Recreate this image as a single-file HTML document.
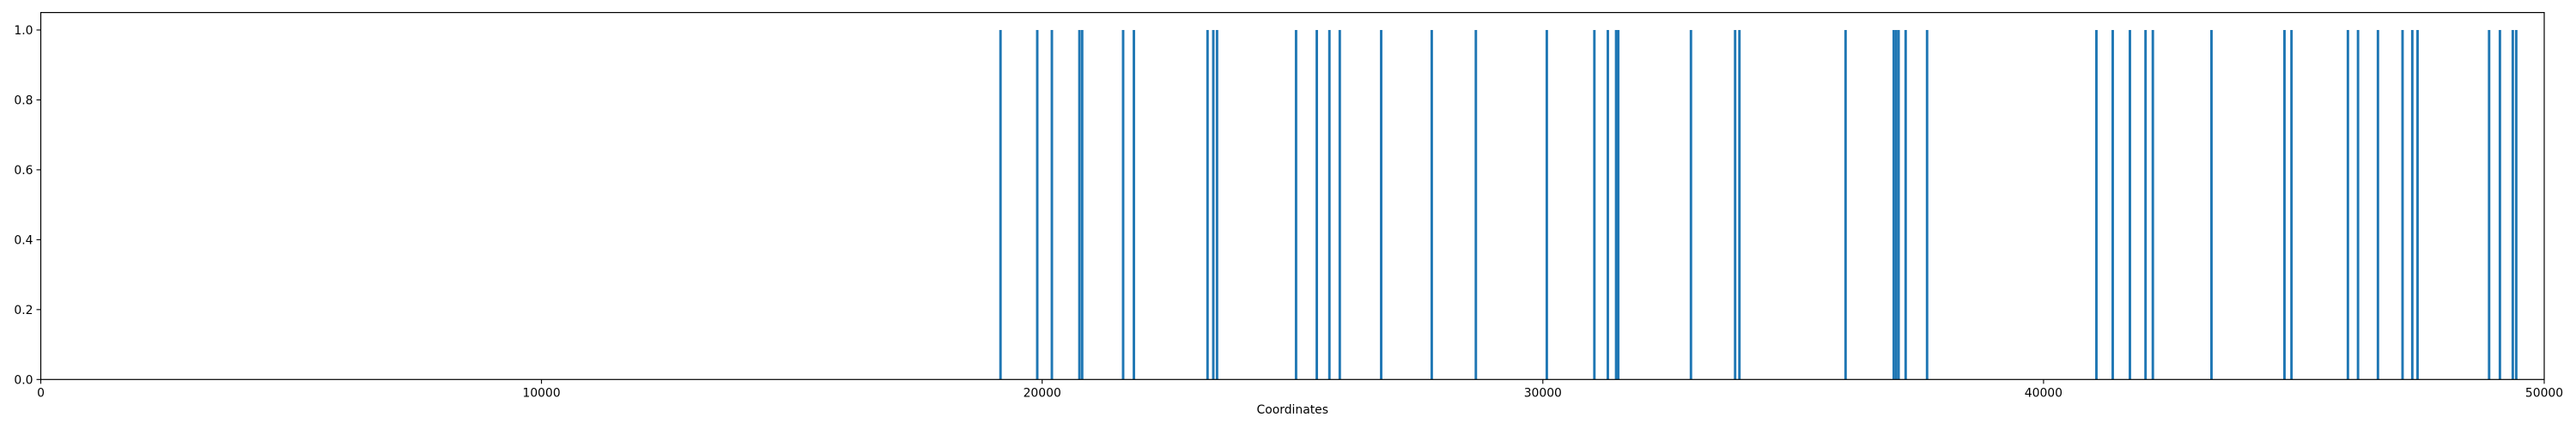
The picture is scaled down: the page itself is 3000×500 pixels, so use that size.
<!DOCTYPE html>
<html><head><meta charset="utf-8"><style>
html,body{margin:0;padding:0;background:#fff;}
svg{display:block;font-family:"DejaVu Sans","Liberation Sans",sans-serif;}
</style></head><body>
<svg id="chart" width="3000" height="500" viewBox="0 0 3000 500">
<rect x="0" y="0" width="3000" height="500" fill="#fff"/>
<g id="bars"></g>
<g id="axes"></g>
</svg>
<script>
const coords = [19168,19902,20194,20744,20799,21617,21832,23303,23418,23493,25071,25485,25737,25944,26771,27781,28662,
30079,31029,31298,31463,31506,32958,33840,33926,36046,37008,37056,37105,37246,37674,
41056,41382,41725,42037,42183,43354,44812,44952,46079,46281,46679,47170,47365,47470,48899,49115,49372,49441];
const heights = coords.map(() => 1);
const xTicks = [0,10000,20000,30000,40000,50000];
const yTicks = [0.0,0.2,0.4,0.6,0.8,1.0];
const yTickLabels = ["0.0","0.2","0.4","0.6","0.8","1.0"];
const barWidth = 50;

const L = 47.5, R = 2963, T = 14.6, B = 442.3;
const xMin = 0, xMax = 50000, yMin = 0, yMax = 1.05;
const xs = v => L + (v - xMin) / (xMax - xMin) * (R - L);
const ys = v => B - (v - yMin) / (yMax - yMin) * (B - T);
const NS = "http://www.w3.org/2000/svg";
const barsG = document.getElementById('bars');
const axesG = document.getElementById('axes');

coords.forEach((c, i) => {
  const r = document.createElementNS(NS, 'rect');
  const x0 = xs(c - barWidth / 2), x1 = xs(c + barWidth / 2);
  r.setAttribute('x', x0);
  r.setAttribute('width', Math.max(x1 - x0, 1));
  r.setAttribute('y', ys(heights[i]));
  r.setAttribute('height', ys(0) - ys(heights[i]));
  r.setAttribute('fill', '#1f77b4');
  
  
  barsG.appendChild(r);
});

function mk(tag, attrs, parent) {
  const e = document.createElementNS(NS, tag);
  for (const k in attrs) e.setAttribute(k, attrs[k]);
  parent.appendChild(e);
  return e;
}
const frame = mk('rect', {x: L, y: T, width: R - L, height: B - T, fill: 'none', stroke: '#000', 'stroke-width': 1.2}, axesG);



xTicks.forEach(v => {
  const x = xs(v);
  const t = mk('line', {x1: x, x2: x, y1: B, y2: B + 5, stroke: '#000', 'stroke-width': 1.1}, axesG);
  
  
  const lb = mk('text', {x: x, y: B + 20, 'text-anchor': 'middle', 'font-size': 13.9, fill: '#000'}, axesG);
  lb.textContent = String(v);
  
  
});
yTicks.forEach((v, i) => {
  const y = ys(v);
  const t = mk('line', {x1: L - 5, x2: L, y1: y, y2: y, stroke: '#000', 'stroke-width': 1.1}, axesG);
  
  
  const lb = mk('text', {x: L - 9, y: y + 5, 'text-anchor': 'end', 'font-size': 13.9, fill: '#000'}, axesG);
  lb.textContent = yTickLabels[i];
  
  
});
const xt = mk('text', {x: (L + R) / 2, y: 482, 'text-anchor': 'middle', 'font-size': 13.9, fill: '#000'}, axesG);
xt.textContent = 'Coordinates';


</script>
</body></html>
